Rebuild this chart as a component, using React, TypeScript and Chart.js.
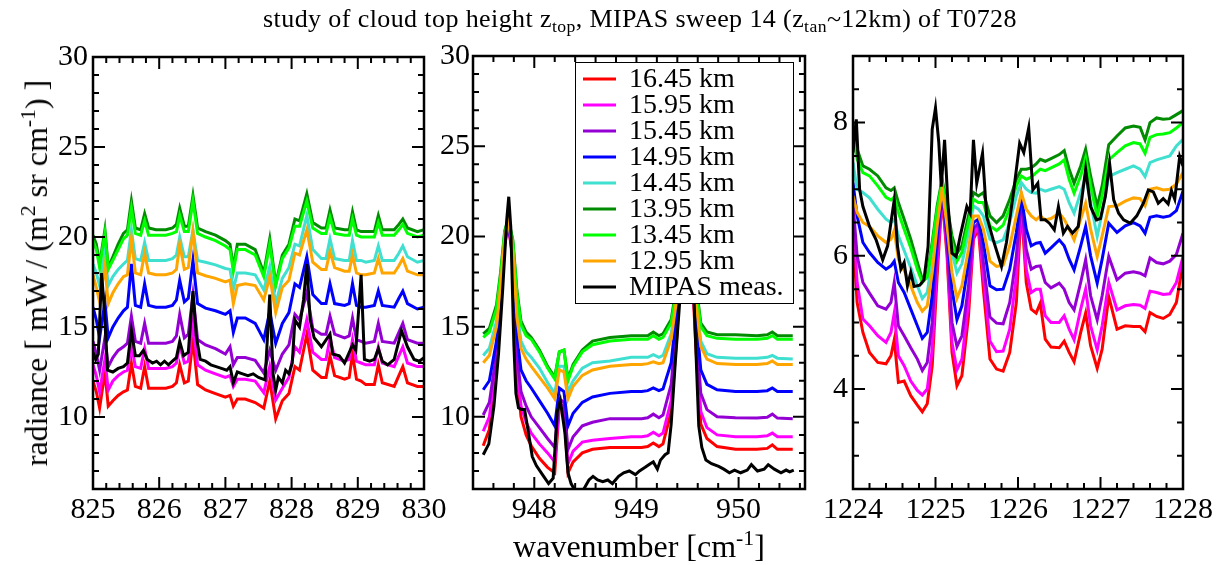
import { useEffect, useRef } from "react";
import { Chart, registerables } from "chart.js";

Chart.register(...registerables);

const SERIF = '"Liberation Serif", "Times New Roman", serif';
const PAGE_W = 1230;
const PAGE_H = 565;

// ---- series labels and colours (legend order) ----
const HEIGHT_LABELS = ["16.45 km", "15.95 km", "15.45 km", "14.95 km", "14.45 km", "13.95 km", "13.45 km", "12.95 km", "MIPAS meas."];
const LINE_COLORS = ["#ff0000", "#ff00ff", "#9400d3", "#0000ff", "#40e0d0", "#008b00", "#00ff00", "#ffa500", "#000000"];

// ---- window 825-830 cm-1 ----
const WN_825 = [825.0, 825.05, 825.1, 825.18, 825.23, 825.3, 825.38, 825.46, 825.52, 825.58, 825.64, 825.72, 825.78, 825.84, 825.95, 826.1, 826.2, 826.26, 826.31, 826.38, 826.44, 826.51, 826.58, 826.7, 826.85, 827.0, 827.07, 827.12, 827.18, 827.3, 827.45, 827.58, 827.67, 827.76, 827.86, 827.96, 828.05, 828.12, 828.23, 828.32, 828.45, 828.52, 828.58, 828.65, 828.8, 828.87, 828.92, 828.98, 829.05, 829.12, 829.25, 829.31, 829.37, 829.55, 829.62, 829.68, 829.75, 829.9, 830.0];
const R825_1645 = [12.0, 11.4, 10.5, 12.5, 10.6, 10.9, 11.2, 11.4, 11.5, 13.0, 11.7, 11.6, 12.8, 11.6, 11.6, 11.6, 11.7, 11.9, 12.9, 11.9, 12.0, 14.3, 11.8, 11.5, 11.3, 11.1, 11.2, 10.6, 11.0, 11.0, 10.8, 10.5, 12.0, 9.9, 10.9, 11.3, 12.8, 12.6, 14.6, 12.6, 12.2, 12.2, 13.4, 12.3, 12.1, 12.2, 13.5, 12.1, 12.0, 11.8, 11.8, 12.9, 11.9, 11.7, 12.3, 12.8, 11.9, 11.7, 11.7];
const R825_1595 = [12.9, 12.3, 11.4, 13.2, 11.5, 12.0, 12.3, 12.5, 12.6, 14.0, 12.8, 12.7, 13.8, 12.7, 12.7, 12.7, 12.8, 13.0, 14.0, 13.0, 13.1, 15.2, 12.9, 12.6, 12.4, 12.2, 12.3, 11.7, 12.1, 12.1, 12.0, 11.35, 12.8, 10.95, 11.6, 12.2, 13.9, 13.6, 15.4, 13.6, 13.2, 13.2, 14.4, 13.3, 13.1, 13.2, 14.3, 13.1, 13.0, 12.9, 12.9, 13.9, 13.0, 12.8, 13.4, 13.9, 13.0, 12.8, 12.8];
const R825_1545 = [14.2, 13.5, 12.6, 14.4, 12.8, 13.3, 13.7, 13.9, 14.1, 15.6, 14.2, 14.1, 15.2, 14.1, 14.1, 14.1, 14.2, 14.5, 15.7, 14.4, 14.6, 16.8, 14.3, 14.0, 13.8, 13.5, 13.9, 12.9, 13.3, 13.3, 13.15, 12.45, 13.7, 12.6, 13.5, 14.0, 15.7, 15.4, 16.9, 14.9, 14.6, 14.6, 15.6, 14.6, 14.4, 14.5, 15.5, 14.3, 14.2, 14.1, 14.2, 15.2, 14.2, 14.1, 14.7, 15.2, 14.3, 14.1, 14.1];
const R825_1495 = [16.1, 15.4, 14.4, 16.4, 14.4, 15.0, 15.5, 15.9, 16.1, 18.5, 16.2, 16.1, 17.4, 16.2, 16.1, 16.1, 16.2, 16.5, 17.6, 16.4, 16.6, 18.7, 16.3, 16.05, 15.9, 15.7, 15.9, 14.7, 15.5, 15.5, 15.2, 14.3, 15.85, 14.1, 15.2, 15.8, 17.4, 17.2, 18.9, 16.8, 16.3, 16.3, 17.4, 16.3, 16.2, 16.3, 17.4, 16.2, 16.1, 16.1, 16.2, 17.0, 16.2, 16.1, 16.6, 17.0, 16.3, 16.0, 16.1];
const R825_1445 = [18.5, 18.0, 17.3, 19.2, 17.3, 17.8, 18.2, 18.5, 18.7, 20.4, 18.8, 18.7, 19.7, 18.7, 18.7, 18.7, 18.8, 19.0, 20.0, 18.9, 18.9, 20.4, 18.7, 18.6, 18.45, 18.25, 18.2, 17.1, 18.0, 18.0, 17.9, 17.05, 18.35, 16.3, 17.7, 18.3, 19.6, 19.5, 21.2, 19.3, 18.8, 18.8, 19.9, 18.8, 18.7, 18.7, 19.8, 18.7, 18.7, 18.6, 18.7, 19.5, 18.7, 18.7, 19.1, 19.5, 18.9, 18.6, 18.7];
const R825_1395 = [20.1, 19.6, 18.5, 20.4, 18.3, 18.9, 19.6, 20.2, 20.4, 22.0, 20.5, 20.4, 21.3, 20.5, 20.4, 20.4, 20.5, 20.7, 21.6, 20.6, 20.6, 22.3, 20.5, 20.3, 20.1, 19.8, 19.6, 18.3, 19.6, 19.6, 19.3, 18.0, 19.9, 17.4, 19.0, 19.6, 21.0, 20.9, 22.4, 20.8, 20.5, 20.5, 21.5, 20.5, 20.4, 20.4, 21.4, 20.4, 20.3, 20.3, 20.3, 21.2, 20.4, 20.4, 20.7, 21.0, 20.5, 20.3, 20.4];
const R825_1345 = [19.8, 19.3, 18.3, 20.2, 18.2, 18.7, 19.3, 19.9, 20.1, 21.6, 20.2, 20.1, 20.9, 20.1, 20.1, 20.1, 20.2, 20.3, 21.2, 20.3, 20.3, 22.0, 20.2, 20.0, 19.8, 19.5, 19.3, 18.1, 19.3, 19.3, 19.0, 17.8, 19.6, 17.3, 18.8, 19.4, 20.6, 20.6, 22.0, 20.5, 20.2, 20.2, 21.1, 20.2, 20.1, 20.1, 21.0, 20.1, 20.0, 20.0, 20.0, 20.8, 20.1, 20.1, 20.4, 20.7, 20.2, 20.0, 20.1];
const R825_1295 = [17.9, 17.2, 16.4, 18.4, 16.3, 16.9, 17.4, 17.8, 17.9, 19.9, 18.0, 17.9, 19.1, 18.0, 17.9, 17.9, 18.0, 18.2, 19.6, 18.2, 18.3, 20.3, 18.0, 17.85, 17.7, 17.5, 17.6, 16.3, 17.3, 17.4, 17.3, 16.5, 17.8, 15.8, 17.2, 17.6, 19.1, 19.0, 20.4, 18.6, 18.2, 18.2, 19.2, 18.3, 18.1, 18.1, 19.0, 18.0, 17.9, 17.9, 18.0, 18.8, 18.0, 18.0, 18.4, 18.8, 18.1, 17.9, 17.9];
const WN_825_MEAS = [825.0, 825.04, 825.08, 825.13, 825.17, 825.22, 825.3, 825.38, 825.46, 825.52, 825.58, 825.64, 825.7, 825.76, 825.82, 825.9, 825.96, 826.02, 826.08, 826.14, 826.2, 826.26, 826.31, 826.37, 826.44, 826.51, 826.56, 826.62, 826.7, 826.78, 826.86, 826.94, 827.02, 827.07, 827.12, 827.18, 827.26, 827.34, 827.42, 827.5, 827.6, 827.67, 827.72, 827.76, 827.8, 827.86, 827.91, 827.96, 828.01, 828.05, 828.12, 828.18, 828.23, 828.28, 828.34, 828.45, 828.58, 828.62, 828.72, 828.8, 828.92, 828.97, 829.05, 829.1, 829.18, 829.25, 829.31, 829.37, 829.45, 829.55, 829.66, 829.75, 829.85, 829.93, 830.0];
const R825_MEAS = [13.6, 13.2, 13.5, 18.0, 16.0, 12.6, 12.5, 12.7, 12.8, 13.0, 14.8, 13.4, 13.4, 13.7, 13.2, 13.0, 13.1, 12.9, 13.1, 12.9, 13.1, 13.3, 14.2, 13.4, 13.6, 17.0, 14.5, 13.2, 13.1, 12.9, 12.8, 12.7, 12.6, 12.8, 11.9, 12.5, 12.4, 12.3, 12.4, 12.2, 12.06, 16.8, 12.4, 11.5, 12.2, 11.9, 12.6, 12.4, 13.0, 15.4, 15.0, 16.5, 18.5, 15.4, 14.4, 13.9, 14.6, 13.5, 13.4, 13.0, 14.0, 13.7, 17.9, 13.2, 13.1, 13.2, 13.8, 13.1, 12.9, 13.2, 14.8, 13.9, 13.2, 13.1, 13.3];

// ---- window 947.4-950.65 cm-1 ----
const WN_948 = [947.5, 947.56, 947.63, 947.67, 947.71, 947.745, 947.79, 947.83, 947.87, 947.92, 947.97, 948.05, 948.13, 948.2, 948.245, 948.29, 948.33, 948.38, 948.47, 948.57, 948.74, 948.95, 949.05, 949.11, 949.165, 949.22, 949.26, 949.34, 949.4, 949.44, 949.48, 949.53, 949.59, 949.63, 949.69, 949.79, 949.97, 950.18, 950.28, 950.33, 950.38, 950.53];
const R948_1645 = [8.4, 9.3, 12.6, 16.0, 19.5, 20.7, 18.7, 12.3, 10.0, 9.0, 8.4, 7.7, 7.2, 6.9, 10.6, 10.3, 6.9, 7.5, 8.0, 8.2, 8.3, 8.3, 8.3, 8.35, 8.55, 8.35, 8.5, 10.3, 14.8, 19.6, 21.8, 19.6, 13.0, 9.6, 8.8, 8.35, 8.2, 8.2, 8.25, 8.45, 8.2, 8.2];
const R948_1595 = [9.2, 10.0, 13.0, 16.2, 19.6, 20.7, 18.8, 12.8, 10.6, 9.7, 9.1, 8.5, 8.0, 7.5, 10.8, 10.5, 7.4, 8.1, 8.6, 8.7, 8.8, 8.9, 8.9, 8.95, 9.15, 8.95, 9.1, 10.9, 15.2, 19.7, 21.8, 19.7, 13.5, 10.3, 9.4, 9.0, 8.9, 8.9, 8.95, 9.1, 8.9, 8.9];
const R948_1545 = [10.1, 10.8, 13.5, 16.4, 19.7, 20.8, 18.9, 13.5, 11.4, 10.6, 10.0, 9.4, 8.8, 8.3, 11.0, 10.8, 8.2, 8.9, 9.5, 9.7, 9.9, 9.9, 9.9, 9.95, 10.15, 9.95, 10.1, 11.8, 15.6, 19.8, 21.8, 19.8, 14.3, 11.3, 10.4, 10.0, 9.95, 9.93, 9.98, 10.15, 9.93, 9.9];
const R948_1495 = [11.5, 12.0, 14.2, 16.8, 19.8, 20.8, 19.0, 14.5, 12.6, 12.0, 11.6, 10.9, 10.2, 9.5, 11.6, 11.4, 9.5, 10.2, 10.8, 11.1, 11.3, 11.4, 11.4, 11.45, 11.6, 11.45, 11.55, 13.0, 16.2, 20.0, 21.9, 20.0, 15.2, 12.6, 11.8, 11.5, 11.4, 11.4, 11.45, 11.6, 11.4, 11.4];
const R948_1445 = [13.4, 13.8, 15.3, 17.4, 20.0, 20.9, 19.4, 15.9, 14.2, 13.6, 13.3, 12.7, 11.9, 11.3, 12.8, 12.8, 11.4, 12.0, 12.7, 13.0, 13.1, 13.3, 13.3, 13.3, 13.45, 13.3, 13.4, 14.6, 17.0, 20.2, 21.9, 20.2, 16.3, 14.2, 13.5, 13.3, 13.25, 13.25, 13.3, 13.4, 13.25, 13.2];
const R948_1395 = [14.6, 14.9, 16.2, 18.0, 20.3, 21.0, 19.8, 17.0, 15.3, 14.7, 14.4, 13.7, 12.8, 12.2, 13.6, 13.7, 12.1, 12.9, 13.7, 14.2, 14.4, 14.5, 14.5, 14.5, 14.7, 14.5, 14.6, 15.4, 17.5, 20.5, 22.0, 20.5, 17.0, 15.2, 14.7, 14.55, 14.55, 14.5, 14.55, 14.7, 14.5, 14.5];
const R948_1345 = [14.4, 14.7, 16.0, 17.8, 20.2, 21.0, 19.7, 16.8, 15.1, 14.5, 14.3, 13.6, 12.7, 12.1, 13.6, 13.7, 12.0, 12.8, 13.6, 14.0, 14.2, 14.3, 14.3, 14.3, 14.5, 14.3, 14.4, 15.2, 17.3, 20.4, 22.0, 20.4, 16.8, 15.0, 14.5, 14.35, 14.3, 14.3, 14.35, 14.5, 14.3, 14.3];
const R948_1295 = [13.0, 13.4, 15.0, 17.2, 19.9, 20.9, 19.2, 15.5, 13.8, 13.2, 12.8, 12.2, 11.6, 11.0, 12.6, 12.5, 11.0, 11.7, 12.3, 12.6, 12.8, 12.9, 12.9, 12.95, 13.05, 12.95, 13.0, 14.3, 16.8, 20.1, 21.9, 20.1, 16.0, 13.9, 13.2, 12.95, 12.9, 12.9, 12.95, 13.1, 12.9, 12.9];
const WN_948_MEAS = [947.5, 947.555, 947.605, 947.65, 947.69, 947.73, 947.75, 947.77, 947.8, 947.82, 947.845, 947.875, 947.905, 947.935, 947.98, 948.02, 948.08, 948.14, 948.185, 948.225, 948.255, 948.3, 948.33, 948.36, 948.4, 948.455, 948.495, 948.535, 948.575, 948.62, 948.67, 948.72, 948.765, 948.825, 948.875, 948.93, 948.99, 949.03, 949.085, 949.135, 949.165, 949.205, 949.235, 949.28, 949.31, 949.34, 949.38, 949.425, 949.465, 949.495, 949.535, 949.58, 949.61, 949.64, 949.68, 949.735, 949.805, 949.855, 949.91, 949.96, 950.02, 950.085, 950.125, 950.185, 950.25, 950.29, 950.35, 950.415, 950.465, 950.5, 950.54];
const R948_MEAS = [7.9, 8.5, 10.6, 13.5, 17.0, 20.9, 22.2, 20.5, 14.0, 11.3, 10.5, 10.4, 10.4, 9.4, 7.8, 7.3, 6.8, 6.3, 6.6, 10.3, 10.9, 9.1, 6.9, 6.3, 5.9, 5.7, 6.1, 6.5, 6.7, 6.5, 6.4, 6.5, 6.3, 6.7, 6.9, 7.0, 6.8, 7.0, 7.2, 7.4, 7.5, 7.1, 7.6, 7.9, 8.0, 9.6, 13.0, 16.5, 21.0, 22.5, 21.0, 14.0, 9.5, 8.3, 7.6, 7.4, 7.25, 7.1, 6.9, 7.05, 6.9, 7.05, 7.35, 7.0, 7.1, 7.35, 7.1, 6.9, 7.05, 6.95, 7.05];

// ---- window 1224-1228 cm-1 ----
const WN_1224 = [1224.0, 1224.05, 1224.12, 1224.2, 1224.3, 1224.4, 1224.46, 1224.5, 1224.55, 1224.62, 1224.7, 1224.78, 1224.84, 1224.9, 1224.96, 1225.02, 1225.08, 1225.14, 1225.2, 1225.26, 1225.32, 1225.4, 1225.46, 1225.52, 1225.58, 1225.66, 1225.74, 1225.82, 1225.9, 1225.98, 1226.04, 1226.1, 1226.16, 1226.22, 1226.27, 1226.33, 1226.4, 1226.5, 1226.56, 1226.62, 1226.68, 1226.76, 1226.82, 1226.88, 1226.96, 1227.02, 1227.1, 1227.2, 1227.3, 1227.4, 1227.48, 1227.54, 1227.6, 1227.68, 1227.76, 1227.84, 1227.92, 1228.0];
const R1224_1645 = [6.3, 5.3, 4.85, 4.55, 4.4, 4.38, 4.5, 4.74, 4.1, 4.12, 3.9, 3.76, 3.66, 3.78, 4.35, 5.7, 6.9, 6.0, 4.55, 4.05, 4.2, 5.1, 6.25, 6.4, 5.5, 4.45, 4.3, 4.27, 4.55, 5.3, 6.75, 5.6, 5.2, 5.14, 5.29, 4.75, 4.63, 4.62, 4.72, 4.55, 4.41, 4.85, 5.14, 4.65, 4.31, 4.6, 5.39, 4.9, 4.95, 4.94, 4.94, 4.86, 5.15, 5.09, 5.06, 5.12, 5.3, 5.9];
const R1224_1595 = [6.6, 5.6, 5.05, 4.95, 4.8, 4.7, 4.85, 5.14, 4.5, 4.35, 4.12, 3.98, 3.91, 4.0, 4.6, 5.9, 6.9, 6.1, 4.7, 4.29, 4.45, 5.3, 6.3, 6.45, 5.7, 4.72, 4.56, 4.57, 4.9, 5.7, 6.8, 5.8, 5.45, 5.5, 5.5, 5.1, 5.0, 5.0, 5.1, 4.9, 4.74, 5.2, 5.5, 4.95, 4.59, 4.95, 5.6, 5.19, 5.25, 5.27, 5.26, 5.21, 5.47, 5.45, 5.42, 5.43, 5.6, 5.99];
const R1224_1545 = [6.8, 6.0, 5.6, 5.44, 5.25, 5.2, 5.3, 5.6, 4.95, 4.8, 4.62, 4.45, 4.28, 4.4, 5.0, 6.1, 6.95, 6.2, 5.0, 4.64, 4.8, 5.55, 6.4, 6.5, 5.9, 5.08, 4.99, 4.98, 5.3, 6.0, 6.85, 6.1, 5.8, 5.84, 5.85, 5.6, 5.52, 5.59, 5.5, 5.3, 5.19, 5.6, 5.94, 5.4, 5.04, 5.4, 5.99, 5.64, 5.74, 5.76, 5.74, 5.7, 5.97, 5.9, 5.88, 5.92, 6.02, 6.34];
const R1224_1495 = [7.1, 6.6, 6.2, 6.05, 5.9, 5.8, 5.85, 5.92, 5.6, 5.45, 5.2, 4.95, 4.76, 4.85, 5.4, 6.3, 7.0, 6.35, 5.5, 5.04, 5.25, 5.9, 6.5, 6.55, 6.2, 5.55, 5.49, 5.5, 5.8, 6.35, 6.9, 6.4, 6.15, 6.19, 6.2, 6.04, 6.12, 6.24, 6.15, 5.95, 5.79, 6.15, 6.44, 6.0, 5.59, 5.95, 6.49, 6.35, 6.45, 6.5, 6.45, 6.34, 6.58, 6.6, 6.58, 6.6, 6.68, 6.97];
const R1224_1445 = [7.4, 7.0, 6.95, 6.87, 6.7, 6.55, 6.5, 6.55, 6.3, 6.08, 5.82, 5.55, 5.36, 5.45, 5.95, 6.6, 7.05, 6.6, 6.05, 5.74, 5.88, 6.35, 6.75, 6.7, 6.6, 6.25, 6.2, 6.24, 6.5, 6.9, 7.1, 7.0, 6.95, 6.94, 7.0, 6.97, 7.0, 7.04, 7.0, 6.8, 6.64, 6.95, 7.19, 6.8, 6.29, 6.65, 7.19, 7.25, 7.3, 7.35, 7.3, 7.19, 7.4, 7.44, 7.47, 7.5, 7.65, 7.75];
const R1224_1395 = [8.0, 7.6, 7.35, 7.3, 7.2, 7.02, 6.98, 7.02, 6.8, 6.55, 6.25, 5.9, 5.65, 5.72, 6.2, 6.75, 7.15, 6.75, 6.3, 6.04, 6.15, 6.6, 6.95, 6.9, 6.95, 6.6, 6.5, 6.6, 6.85, 7.15, 7.3, 7.3, 7.32, 7.38, 7.45, 7.42, 7.46, 7.52, 7.58, 7.3, 7.09, 7.35, 7.6, 7.2, 6.74, 7.05, 7.67, 7.8, 7.92, 7.95, 7.93, 7.74, 8.0, 8.07, 8.05, 8.06, 8.12, 8.18];
const R1224_1345 = [7.85, 7.45, 7.25, 7.2, 7.05, 6.88, 6.84, 6.88, 6.65, 6.4, 6.12, 5.8, 5.6, 5.68, 6.15, 6.7, 7.1, 6.7, 6.2, 5.92, 6.05, 6.5, 6.85, 6.8, 6.8, 6.45, 6.38, 6.46, 6.72, 7.05, 7.2, 7.15, 7.18, 7.25, 7.3, 7.28, 7.32, 7.38, 7.44, 7.15, 6.94, 7.2, 7.47, 7.05, 6.59, 6.9, 7.44, 7.55, 7.65, 7.7, 7.68, 7.54, 7.78, 7.82, 7.83, 7.85, 7.92, 8.0];
const R1224_1295 = [6.9, 6.65, 6.5, 6.44, 6.3, 6.2, 6.25, 6.38, 5.95, 5.78, 5.55, 5.3, 5.17, 5.25, 5.75, 6.45, 7.0, 6.45, 5.75, 5.36, 5.55, 6.1, 6.6, 6.6, 6.4, 5.92, 5.84, 5.86, 6.15, 6.6, 6.95, 6.7, 6.6, 6.54, 6.6, 6.54, 6.56, 6.64, 6.55, 6.4, 6.24, 6.55, 6.79, 6.4, 5.99, 6.3, 6.74, 6.75, 6.82, 6.87, 6.86, 6.75, 7.0, 7.02, 6.99, 7.0, 7.08, 7.25];
const WN_1224_MEAS = [1224.0, 1224.04, 1224.08, 1224.12, 1224.2, 1224.28, 1224.36, 1224.42, 1224.46, 1224.5, 1224.54, 1224.58, 1224.62, 1224.66, 1224.7, 1224.74, 1224.81, 1224.86, 1224.91, 1224.96, 1225.0, 1225.04, 1225.07, 1225.11, 1225.15, 1225.2, 1225.25, 1225.3, 1225.38, 1225.42, 1225.46, 1225.5, 1225.57, 1225.62, 1225.7, 1225.8, 1225.86, 1225.94, 1226.02, 1226.07, 1226.13, 1226.18, 1226.24, 1226.28, 1226.33, 1226.38, 1226.44, 1226.49, 1226.55, 1226.6, 1226.66, 1226.73, 1226.82, 1226.88, 1226.95, 1227.0, 1227.06, 1227.11, 1227.16, 1227.22, 1227.28, 1227.36, 1227.44, 1227.52, 1227.58, 1227.64, 1227.7, 1227.76, 1227.82, 1227.86, 1227.9, 1227.96, 1228.0];
const R1224_MEAS = [7.55, 8.05, 7.0, 6.74, 6.44, 6.24, 5.94, 6.15, 6.5, 6.84, 6.14, 5.8, 5.9, 5.55, 5.75, 5.54, 5.56, 5.64, 6.14, 7.9, 8.22, 7.7, 7.04, 7.74, 6.8, 6.04, 5.99, 6.3, 6.74, 6.64, 7.74, 7.09, 7.54, 6.59, 6.24, 5.84, 6.2, 6.9, 7.69, 7.55, 7.92, 6.99, 7.09, 6.54, 6.54, 6.49, 6.39, 6.74, 6.34, 6.44, 6.34, 6.44, 7.3, 6.74, 6.54, 6.56, 6.9, 7.39, 6.84, 6.64, 6.54, 6.49, 6.6, 6.79, 6.99, 6.96, 6.79, 6.86, 6.78, 6.98, 6.85, 7.49, 7.35];

// ---- axis ticks ----
const X_TICKS_825 = [825, 826, 827, 828, 829, 830];
const X_TICKS_948 = [948, 949, 950];
const X_TICKS_1224 = [1224, 1225, 1226, 1227, 1228];
const Y_TICKS_RAD = [10, 15, 20, 25, 30];
const Y_TICKS_1224 = [4, 6, 8];

type Box = { left: number; top: number; right: number; bottom: number };
type Panel = {
  box: Box;
  xMin: number; xMax: number; xTicks: number[]; xMinor: number;
  yMin: number; yMax: number; yTicks: number[]; yMinor: number;
  labelGap: number;
  wn: number[]; models: number[][];
  measWn: number[]; meas: number[];
  legend: boolean;
};

const PANELS: Panel[] = [
  {
    box: { left: 93, top: 57, right: 424, bottom: 489 },
    xMin: 825, xMax: 830, xTicks: X_TICKS_825, xMinor: 0.2,
    yMin: 6, yMax: 30, yTicks: Y_TICKS_RAD, yMinor: 1, labelGap: 5,
    wn: WN_825,
    models: [R825_1645, R825_1595, R825_1545, R825_1495, R825_1445, R825_1395, R825_1345, R825_1295],
    measWn: WN_825_MEAS, meas: R825_MEAS, legend: false,
  },
  {
    box: { left: 473, top: 56, right: 805, bottom: 489 },
    xMin: 947.4, xMax: 950.65, xTicks: X_TICKS_948, xMinor: 0.2,
    yMin: 6, yMax: 30, yTicks: Y_TICKS_RAD, yMinor: 1, labelGap: 3,
    wn: WN_948,
    models: [R948_1645, R948_1595, R948_1545, R948_1495, R948_1445, R948_1395, R948_1345, R948_1295],
    measWn: WN_948_MEAS, meas: R948_MEAS, legend: true,
  },
  {
    box: { left: 853, top: 56, right: 1183, bottom: 489 },
    xMin: 1224, xMax: 1228, xTicks: X_TICKS_1224, xMinor: 0.2,
    yMin: 2.5, yMax: 9, yTicks: Y_TICKS_1224, yMinor: 0.5, labelGap: 5,
    wn: WN_1224,
    models: [R1224_1645, R1224_1595, R1224_1545, R1224_1495, R1224_1445, R1224_1395, R1224_1345, R1224_1295],
    measWn: WN_1224_MEAS, meas: R1224_MEAS, legend: false,
  },
];

function gridValues(min: number, max: number, step: number): number[] {
  const out: number[] = [];
  for (let k = Math.ceil(min / step - 1e-6); k * step <= max + 1e-6; k++) out.push(k * step);
  return out;
}

function isMajor(v: number, majors: number[]): boolean {
  return majors.some((m) => Math.abs(m - v) < 1e-6);
}

// frame, inward ticks on all four sides and tick labels
function framePlugin(p: Panel) {
  return {
    id: "frameTicks",
    afterDatasetsDraw(chart: any) {
      const { ctx, chartArea: a } = chart;
      const xs = chart.scales.x;
      const ys = chart.scales.y;
      ctx.save();
      ctx.strokeStyle = "#000";
      ctx.lineWidth = 2;
      ctx.beginPath();
      for (const v of gridValues(p.xMin, p.xMax, p.xMinor)) {
        const px = xs.getPixelForValue(v);
        const len = isMajor(v, p.xTicks) ? 12 : 6;
        ctx.moveTo(px, a.bottom);
        ctx.lineTo(px, a.bottom - len);
        ctx.moveTo(px, a.top);
        ctx.lineTo(px, a.top + len);
      }
      for (const v of gridValues(p.yMin, p.yMax, p.yMinor)) {
        const py = ys.getPixelForValue(v);
        const len = isMajor(v, p.yTicks) ? 12 : 6;
        ctx.moveTo(a.left, py);
        ctx.lineTo(a.left + len, py);
        ctx.moveTo(a.right, py);
        ctx.lineTo(a.right - len, py);
      }
      ctx.stroke();
      ctx.lineWidth = 2.5;
      ctx.strokeRect(a.left, a.top, a.right - a.left, a.bottom - a.top);

      ctx.fillStyle = "#000";
      ctx.font = `30px ${SERIF}`;
      ctx.textAlign = "center";
      ctx.textBaseline = "alphabetic";
      for (const t of p.xTicks) ctx.fillText(String(t), xs.getPixelForValue(t), a.bottom + 29);
      ctx.textAlign = "right";
      ctx.textBaseline = "middle";
      for (const t of p.yTicks) ctx.fillText(String(t), a.left - p.labelGap, ys.getPixelForValue(t));
      ctx.restore();
    },
  };
}

// boxed legend inside the middle window
const legendPlugin = {
  id: "boxLegend",
  afterDraw(chart: any) {
    const { ctx, chartArea: a } = chart;
    const x0 = a.left + 102;
    const y0 = a.top + 6;
    ctx.save();
    ctx.fillStyle = "#fff";
    ctx.fillRect(x0, y0, 218, 241);
    ctx.strokeStyle = "#000";
    ctx.lineWidth = 1;
    ctx.strokeRect(x0 + 0.5, y0 + 0.5, 218, 241);
    ctx.font = `28px ${SERIF}`;
    ctx.textAlign = "left";
    ctx.textBaseline = "middle";
    HEIGHT_LABELS.forEach((label, i) => {
      const cy = a.top + 23 + 26 * i;
      ctx.strokeStyle = LINE_COLORS[i];
      ctx.lineWidth = 3;
      ctx.beginPath();
      ctx.moveTo(x0 + 8, cy);
      ctx.lineTo(x0 + 41, cy);
      ctx.stroke();
      ctx.fillStyle = "#000";
      ctx.fillText(label, x0 + 54, cy + 1);
    });
    ctx.restore();
  },
};

function buildConfig(p: Panel): any {
  const datasets = p.models.map((vals, i) => ({
    label: HEIGHT_LABELS[i],
    data: p.wn.map((x, k) => ({ x, y: vals[k] })),
    borderColor: LINE_COLORS[i],
    borderWidth: 3,
    pointRadius: 0,
    tension: 0,
    fill: false,
    order: 8 - i,
  }));
  datasets.push({
    label: HEIGHT_LABELS[8],
    data: p.measWn.map((x, k) => ({ x, y: p.meas[k] })),
    borderColor: LINE_COLORS[8],
    borderWidth: 3,
    pointRadius: 0,
    tension: 0,
    fill: false,
    order: 0,
  });
  const plugins: any[] = [framePlugin(p)];
  if (p.legend) plugins.push(legendPlugin);
  return {
    type: "line",
    data: { datasets },
    options: {
      responsive: false,
      maintainAspectRatio: false,
      devicePixelRatio: 1,
      animation: false,
      events: [],
      layout: {
        padding: {
          left: p.box.left,
          top: p.box.top,
          right: PAGE_W - p.box.right,
          bottom: PAGE_H - p.box.bottom,
        },
      },
      scales: {
        x: { type: "linear", min: p.xMin, max: p.xMax, display: false },
        y: { type: "linear", min: p.yMin, max: p.yMax, display: false },
      },
      plugins: { legend: { display: false }, tooltip: { enabled: false }, title: { display: false } },
    },
    plugins,
  };
}

const subStyle = { fontSize: "0.68em", verticalAlign: "-0.3em", lineHeight: 0 } as const;
const supStyle = { fontSize: "0.68em", verticalAlign: "0.55em", lineHeight: 0 } as const;

export default function App() {
  const ref0 = useRef<HTMLCanvasElement>(null);
  const ref1 = useRef<HTMLCanvasElement>(null);
  const ref2 = useRef<HTMLCanvasElement>(null);

  useEffect(() => {
    const refs = [ref0, ref1, ref2];
    const charts = PANELS.map((p, i) => new Chart(refs[i].current as HTMLCanvasElement, buildConfig(p)));
    return () => charts.forEach((c) => c.destroy());
  }, []);

  const canvasStyle = { position: "absolute", left: 0, top: 0, width: PAGE_W, height: PAGE_H } as const;

  return (
    <div style={{ position: "absolute", left: 0, top: 0, width: PAGE_W, height: PAGE_H, background: "#fff", overflow: "hidden", fontFamily: SERIF, color: "#000" }}>
      <canvas ref={ref0} width={PAGE_W} height={PAGE_H} style={canvasStyle} />
      <canvas ref={ref1} width={PAGE_W} height={PAGE_H} style={canvasStyle} />
      <canvas ref={ref2} width={PAGE_W} height={PAGE_H} style={canvasStyle} />
      <div style={{ position: "absolute", left: 640, top: 6, transform: "translateX(-50%)", whiteSpace: "nowrap", fontSize: 26, lineHeight: "26px", letterSpacing: "0.4px" }}>
        study of cloud top height z<span style={subStyle}>top</span>, MIPAS sweep 14 (z<span style={subStyle}>tan</span>~12km) of T0728
      </div>
      <div style={{ position: "absolute", left: 36, top: 273, transform: "translate(-50%, -50%) rotate(-90deg)", whiteSpace: "nowrap", fontSize: 32, lineHeight: "32px" }}>
        radiance [ mW / (m<span style={supStyle}>2</span> sr cm<span style={supStyle}>-1</span>) ]
      </div>
      <div style={{ position: "absolute", left: 639, top: 530, transform: "translateX(-50%)", whiteSpace: "nowrap", fontSize: 32, lineHeight: "32px" }}>
        wavenumber [cm<span style={supStyle}>-1</span>]
      </div>
    </div>
  );
}
